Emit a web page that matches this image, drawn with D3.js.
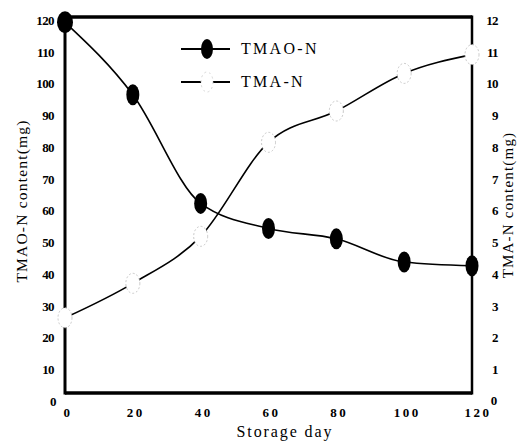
<!DOCTYPE html>
<html>
<head>
<meta charset="utf-8">
<script src="https://cdn.jsdelivr.net/npm/d3@7"></script>
<style>
  body { margin: 0; background: #fff; }
  text { font-family: "Liberation Serif", "DejaVu Serif", serif; fill: #000; }
</style>
</head>
<body>
<div id="chart"></div>
<script>
var days = [0, 20, 40, 60, 80, 100, 120]
var tmao = [118.3, 95.2, 60.5, 52.5, 49.2, 41.8, 40.6]
var tma = [2.4, 3.5, 5.0, 8.0, 9.0, 10.2, 10.8]
var leftTicks = [0, 10, 20, 30, 40, 50, 60, 70, 80, 90, 100, 110, 120]
var rightTicks = [1, 2, 3, 4, 5, 6, 7, 8, 9, 10, 11, 12]
var xTicks = [0, 20, 40, 60, 80, 100, 120]

var width = 527, height = 443
var margin = {top: 17, right: 55, bottom: 50, left: 65}

var svg = d3.select("#chart")
  .append("svg")
    .attr("width", width)
    .attr("height", height)

var x = d3.scaleLinear()
  .domain([0, 120])
  .range([margin.left, width - margin.right])

var yL = d3.scaleLinear()
  .domain([0, 120])
  .range([height - margin.bottom, margin.top])

var yR = d3.scaleLinear()
  .domain([0, 12])
  .range([height - margin.bottom, margin.top])

var x0 = x(0), x1 = x(120), y0 = yL(0), y1 = yL(120)

// frame
svg.append("line").attr("x1", x0).attr("x2", x1).attr("y1", y1).attr("y2", y1)
  .attr("stroke", "#000").attr("stroke-width", 3.5)
svg.append("line").attr("x1", x0).attr("x2", x1).attr("y1", y0).attr("y2", y0)
  .attr("stroke", "#000").attr("stroke-width", 3.5)
svg.append("line").attr("x1", x0).attr("x2", x0).attr("y1", y1 - 1.5).attr("y2", y0 + 1.5)
  .attr("stroke", "#000").attr("stroke-width", 3)
svg.append("line").attr("x1", x1).attr("x2", x1).attr("y1", y1 - 1.5).attr("y2", y0 + 1.5)
  .attr("stroke", "#000").attr("stroke-width", 2.5)

// tick labels
svg.append("g").selectAll("text")
  .data(leftTicks).enter().append("text")
    .attr("x", function(d) { return d == 0 ? 56 : 54 })
    .attr("y", function(d) { return yL(d) + 5 + (120 - d) * 0.04 })
    .attr("text-anchor", "end")
    .attr("font-size", 13)
    .attr("font-weight", "bold")
    .attr("letter-spacing", -0.6)
    .attr("dominant-baseline", "middle")
    .text(function(d) { return d })

svg.append("g").selectAll("text")
  .data(rightTicks).enter().append("text")
    .attr("x", 498)
    .attr("y", function(d) { return yR(d) + 5 + (12 - d) * 0.4 })
    .attr("text-anchor", "end")
    .attr("font-size", 13)
    .attr("font-weight", "bold")
    .attr("letter-spacing", -0.6)
    .attr("dominant-baseline", "middle")
    .text(function(d) { return d })

svg.append("text")
  .attr("x", 494).attr("y", 402)
  .attr("text-anchor", "middle")
  .attr("font-size", 13).attr("font-weight", "bold")
  .attr("dominant-baseline", "middle")
  .text("0")

svg.append("g").selectAll("text")
  .data(xTicks).enter().append("text")
    .attr("x", function(d) { return x(d) + 3 + (d == 120 ? 3 : 0) })
    .attr("y", 414)
    .attr("text-anchor", "middle")
    .attr("font-size", 13)
    .attr("font-weight", "bold")
    .attr("letter-spacing", 2.5)
    .attr("dominant-baseline", "middle")
    .text(function(d) { return d })

// axis titles
svg.append("text")
  .attr("transform", "translate(27,201) rotate(-90)")
  .attr("text-anchor", "middle")
  .attr("font-size", 15.5)
  .attr("letter-spacing", 1.2)
  .text("TMAO-N content(mg)")

svg.append("text")
  .attr("transform", "translate(513,205) rotate(-90)")
  .attr("text-anchor", "middle")
  .attr("font-size", 15)
  .attr("letter-spacing", 1.2)
  .text("TMA-N content(mg)")

svg.append("text")
  .attr("x", 285).attr("y", 437)
  .attr("text-anchor", "middle")
  .attr("font-size", 16)
  .attr("letter-spacing", 1.9)
  .text("Storage day")

// lines
var tmaoData = days.map(function(d, i) { return {day: d, v: tmao[i]} })
var tmaData = days.map(function(d, i) { return {day: d, v: tma[i]} })

svg.append("path")
  .datum(tmaData)
  .attr("fill", "none")
  .attr("stroke", "#000")
  .attr("stroke-width", 1.6)
  .attr("d", d3.line()
    .x(function(d) { return x(d.day) })
    .y(function(d) { return yR(d.v) })
    .curve(d3.curveMonotoneX))

svg.append("g").selectAll("ellipse")
  .data(tmaData).enter().append("ellipse")
    .attr("cx", function(d) { return x(d.day) })
    .attr("cy", function(d) { return yR(d.v) })
    .attr("rx", 7)
    .attr("ry", 10)
    .attr("fill", "#fff")
    .attr("stroke", "#bbb")
    .attr("stroke-width", 0.8)
    .attr("stroke-dasharray", "2,2")

svg.append("path")
  .datum(tmaoData)
  .attr("fill", "none")
  .attr("stroke", "#000")
  .attr("stroke-width", 1.6)
  .attr("d", d3.line()
    .x(function(d) { return x(d.day) })
    .y(function(d) { return yL(d.v) })
    .curve(d3.curveMonotoneX))

svg.append("g").selectAll("ellipse")
  .data(tmaoData).enter().append("ellipse")
    .attr("cx", function(d) { return x(d.day) })
    .attr("cy", function(d) { return yL(d.v) })
    .attr("rx", function(d, i) { return i == 0 ? 8 : 6.5 })
    .attr("ry", function(d, i) { return i == 0 ? 11 : 10.5 })
    .attr("fill", "#000")

// legend
var legend = svg.append("g")
legend.append("line").attr("x1", 181).attr("x2", 230).attr("y1", 49).attr("y2", 49)
  .attr("stroke", "#000").attr("stroke-width", 2)
legend.append("ellipse").attr("cx", 207).attr("cy", 49).attr("rx", 6).attr("ry", 10).attr("fill", "#000")
legend.append("text").attr("x", 241).attr("y", 50)
  .attr("dominant-baseline", "middle")
  .attr("font-size", 16).attr("letter-spacing", 2.3)
  .text("TMAO-N")

legend.append("line").attr("x1", 181).attr("x2", 230).attr("y1", 82).attr("y2", 82)
  .attr("stroke", "#000").attr("stroke-width", 2)
legend.append("ellipse").attr("cx", 207).attr("cy", 82).attr("rx", 6).attr("ry", 10)
  .attr("fill", "#fff").attr("stroke", "#ccc").attr("stroke-width", 0.8)
  .attr("stroke-dasharray", "2,3")
legend.append("text").attr("x", 241).attr("y", 83)
  .attr("dominant-baseline", "middle")
  .attr("font-size", 16).attr("letter-spacing", 2.3)
  .text("TMA-N")
</script>
</body>
</html>
